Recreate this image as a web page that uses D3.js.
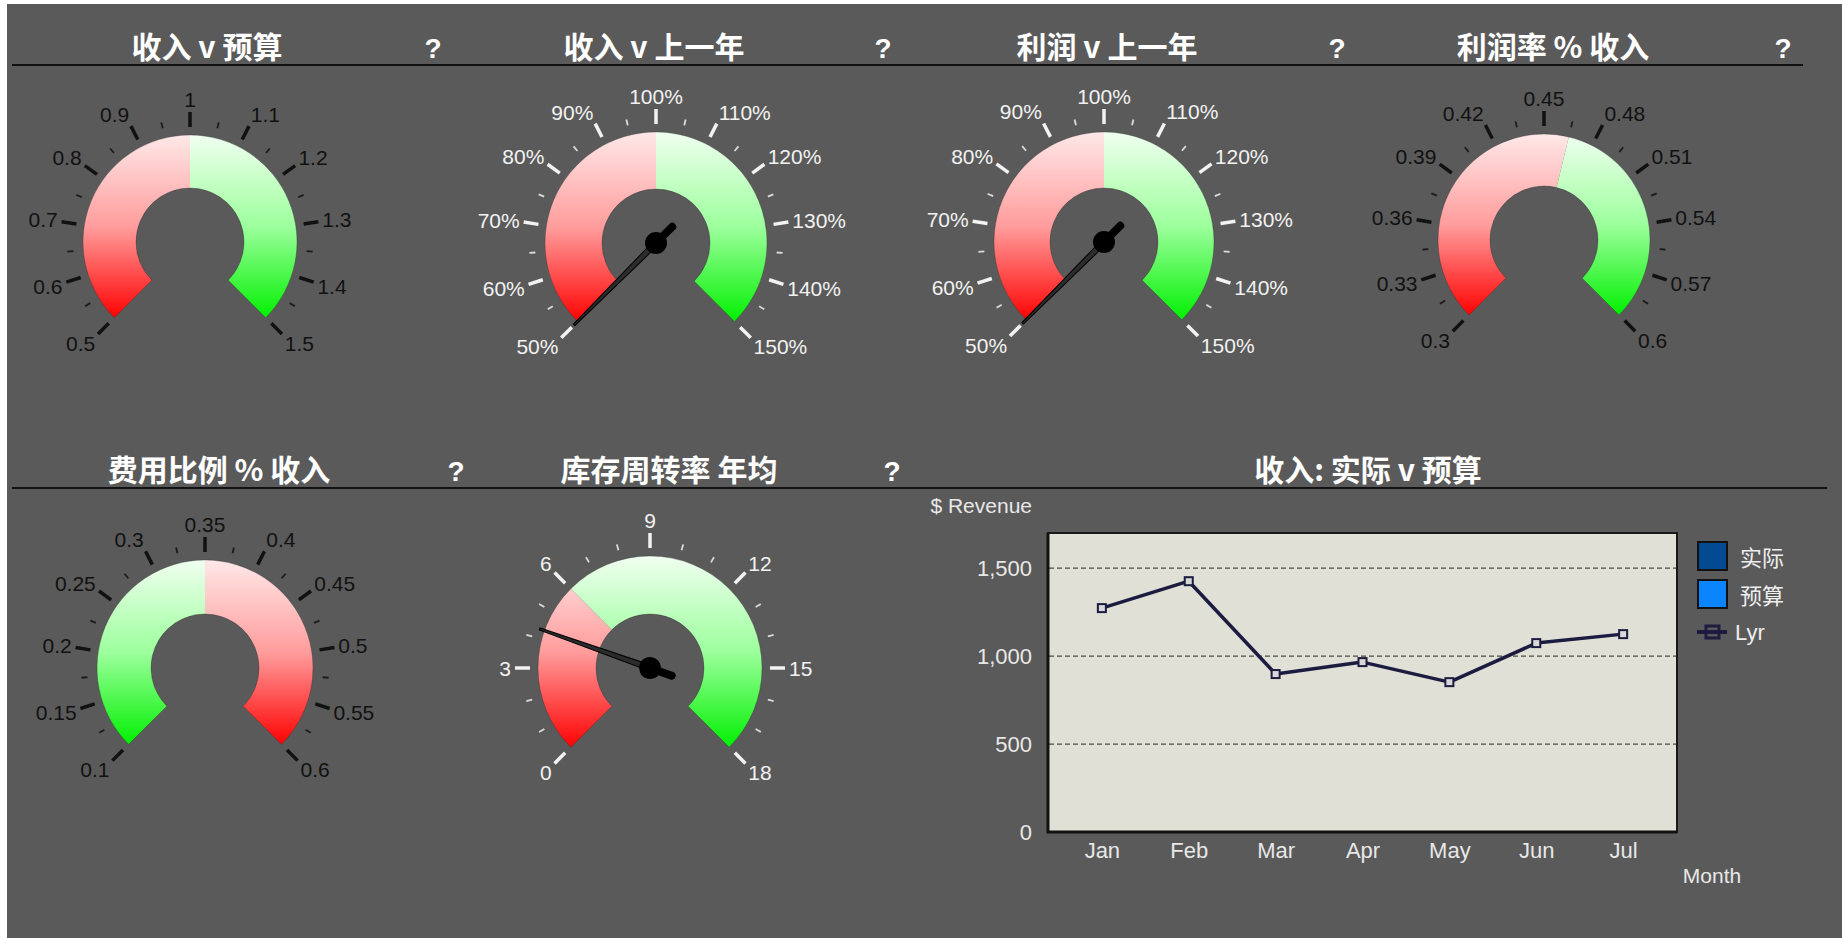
<!DOCTYPE html>
<html>
<head>
<meta charset="utf-8">
<script src="https://cdn.jsdelivr.net/npm/d3@7/dist/d3.min.js"></script>
<style>
  body { margin: 0; background: #ffffff; }
  svg { display: block; }
</style>
</head>
<body>
<div id="dash"></div>
<script>
// ---- DATA ----
const gaugeTitles = ["收入 v 预算", "收入 v 上一年", "利润 v 上一年", "利润率 % 收入", "费用比例 % 收入", "库存周转率 年均"]
const gaugeMin = [0.5, 0.5, 0.5, 0.3, 0.1, 0]
const gaugeMax = [1.5, 1.5, 1.5, 0.6, 0.6, 18]
const gaugeMajorCount = [10, 10, 10, 10, 10, 6]
const gaugeMinorPerMajor = [1, 1, 1, 1, 1, 2]
const gaugeThreshold = [1, 1, 1, 0.465, 0.35, 6]
const gaugeLowIsGood = [false, false, false, false, true, false]
const gaugeValues = [null, 0.5, 0.5, null, null, 4.3]
const gaugePercent = [false, true, true, false, false, false]
const gaugeLightText = [false, true, true, false, false, true]

const months = ["Jan", "Feb", "Mar", "Apr", "May", "Jun", "Jul"]
const lyrValues = [1273, 1426, 898, 966, 852, 1074, 1125]
const revenueTicks = [0, 500, 1000, 1500]
const legendLabels = ["实际", "预算", "Lyr"]

// ---- LAYOUT ----
const W = 1842, H = 938
const gaugeLayout = [
    {cx: 190, cy: 242, r: 107, qx: 433},
    {cx: 656, cy: 243, r: 111, qx: 883},
    {cx: 1104, cy: 242, r: 110, qx: 1337},
    {cx: 1544, cy: 240, r: 106, qx: 1783},
    {cx: 205, cy: 668, r: 108, qx: 456},
    {cx: 650, cy: 668, r: 112, qx: 892},
]
const titleX = [207, 654, 1107, 1553, 219, 669]
const innerR = 54

const numFont = "'Liberation Sans', Arial, sans-serif"
const cjkFont = "'Noto Sans CJK SC', 'Noto Sans', sans-serif"

const svg = d3.select("#dash").append("svg")
    .attr("width", W)
    .attr("height", H)

svg.append("rect")
    .attr("x", 7).attr("y", 4)
    .attr("width", W - 7).attr("height", H - 4)
    .attr("fill", "#5a5a5a")

const defs = svg.append("defs")

// header lines
svg.append("line").attr("x1", 12).attr("x2", 1803).attr("y1", 65).attr("y2", 65)
    .attr("stroke", "#111").attr("stroke-width", 2)
svg.append("line").attr("x1", 12).attr("x2", 1827).attr("y1", 488).attr("y2", 488)
    .attr("stroke", "#111").attr("stroke-width", 2)

// ---- GAUGES ----
function drawGauge(i) {
    const {cx, cy, r, qx} = gaugeLayout[i]
    const top = i < 4
    const titleY = top ? 58 : 481
    const ink = gaugeLightText[i] ? "#f2f2f2" : "#111"

    svg.append("text")
        .attr("x", titleX[i]).attr("y", titleY)
        .attr("text-anchor", "middle")
        .attr("font-family", cjkFont)
        .attr("font-weight", "bold")
        .attr("font-size", 30)
        .attr("fill", "#fff")
        .text(gaugeTitles[i])

    svg.append("text")
        .attr("x", qx).attr("y", titleY)
        .attr("text-anchor", "middle")
        .attr("font-family", numFont)
        .attr("font-weight", "bold")
        .attr("font-size", 28)
        .attr("fill", "#fff")
        .text("?")

    const angle = d3.scaleLinear()
        .domain([gaugeMin[i], gaugeMax[i]])
        .range([-135, 135])

    const g = svg.append("g").attr("transform", `translate(${cx},${cy})`)

    // gradients, top (light) to bottom (saturated), in the gauge's own coords
    const mk = (id, light, mid, full) => {
        const lg = defs.append("linearGradient")
            .attr("id", id)
            .attr("gradientUnits", "userSpaceOnUse")
            .attr("x1", 0).attr("x2", 0)
            .attr("y1", -r).attr("y2", r * 0.72)
        lg.append("stop").attr("offset", 0).attr("stop-color", light)
        lg.append("stop").attr("offset", 0.5).attr("stop-color", mid)
        lg.append("stop").attr("offset", 1).attr("stop-color", full)
    }
    mk("red" + i, "#ffe8e8", "#ff9c9c", "#ff0000")
    mk("green" + i, "#f0fff0", "#9cff9c", "#00f000")

    const arc = d3.arc().innerRadius(innerR).outerRadius(r)
    const rad = d => angle(d) * Math.PI / 180
    const lowColor = gaugeLowIsGood[i] ? "green" : "red"
    const highColor = gaugeLowIsGood[i] ? "red" : "green"

    const bands = [
        {a: gaugeMin[i], b: gaugeThreshold[i], c: lowColor},
        {a: gaugeThreshold[i], b: gaugeMax[i], c: highColor},
    ]
    g.selectAll(".band")
        .data(bands)
        .join("path")
        .attr("class", "band")
        .attr("d", d => arc({startAngle: rad(d.a), endAngle: rad(d.b)}))
        .attr("fill", d => `url(#${d.c}${i})`)

    // faint outline round the whole ring
    g.append("path")
        .attr("d", arc({startAngle: rad(gaugeMin[i]), endAngle: rad(gaugeMax[i])}))
        .attr("fill", "none")
        .attr("stroke", "rgba(40,40,40,0.3)")
        .attr("stroke-width", 1)

    // ticks
    const n = gaugeMajorCount[i] * (gaugeMinorPerMajor[i] + 1)
    const tickData = d3.range(n + 1).map(k => ({
        a: -135 + 270 * k / n,
        major: k % (gaugeMinorPerMajor[i] + 1) === 0,
    }))
    g.selectAll(".tick")
        .data(tickData)
        .join("line")
        .attr("class", "tick")
        .attr("x1", d => Math.sin(d.a * Math.PI / 180) * (r + (d.major ? 8 : 10)))
        .attr("y1", d => -Math.cos(d.a * Math.PI / 180) * (r + (d.major ? 8 : 10)))
        .attr("x2", d => Math.sin(d.a * Math.PI / 180) * (r + (d.major ? 23 : 16)))
        .attr("y2", d => -Math.cos(d.a * Math.PI / 180) * (r + (d.major ? 23 : 16)))
        .attr("stroke", ink)
        .attr("stroke-width", d => d.major ? 3.5 : 1.8)
        .attr("opacity", d => d.major ? 1 : 0.85)

    // labels
    const step = (gaugeMax[i] - gaugeMin[i]) / gaugeMajorCount[i]
    const labelVals = d3.range(gaugeMajorCount[i] + 1).map(k => gaugeMin[i] + k * step)
    const fmt = v => gaugePercent[i] ? Math.round(v * 100) + "%" : String(+v.toFixed(2))
    const lr = r + 27
    g.selectAll(".lbl")
        .data(labelVals)
        .join("text")
        .attr("class", "lbl")
        .attr("x", v => Math.sin(rad(v)) * lr)
        .attr("y", v => -Math.cos(rad(v)) * lr - Math.cos(rad(v)) * 9)
        .attr("text-anchor", v => {
            const s = Math.sin(rad(v))
            return s > 0.15 ? "start" : s < -0.15 ? "end" : "middle"
        })
        .attr("dominant-baseline", "central")
        .attr("font-family", numFont)
        .attr("font-size", 21)
        .attr("fill", ink)
        .text(fmt)

    // needle: drawn pointing up (-y), then rotated to the value
    if (gaugeValues[i] !== null) {
        const nd = g.append("g").attr("transform", `rotate(${angle(gaugeValues[i])})`)
        const tip = r + 5
        nd.append("path")
            .attr("d", `M-3,0 L-1,${-tip} L1,${-tip} L3,0 Z`)
            .attr("fill", "#2c2c2c")
            .attr("stroke", "#000")
            .attr("stroke-width", 1)
        // short tail behind the hub
        nd.append("line")
            .attr("x1", 0).attr("y1", 0)
            .attr("x2", 0).attr("y2", 23)
            .attr("stroke", "#000")
            .attr("stroke-width", 8)
            .attr("stroke-linecap", "round")
        nd.append("circle").attr("r", 11).attr("fill", "#000")
    }
}

gaugeLayout.forEach((d, i) => drawGauge(i))

// ---- LINE CHART ----
svg.append("text")
    .attr("x", 1368).attr("y", 481)
    .attr("text-anchor", "middle")
    .attr("font-family", cjkFont)
    .attr("font-weight", "bold")
    .attr("font-size", 30)
    .attr("fill", "#fff")
    .text("收入: 实际 v 预算")

const plot = {left: 1048, right: 1677, top: 533, bottom: 832}

const xScale = d3.scalePoint()
    .domain(months)
    .range([plot.left, plot.right])
    .padding(0.62)

const yScale = d3.scaleLinear()
    .domain([0, 1700])
    .range([plot.bottom, plot.top])

svg.append("rect")
    .attr("x", plot.left).attr("y", plot.top)
    .attr("width", plot.right - plot.left)
    .attr("height", plot.bottom - plot.top)
    .attr("fill", "#e0e0d6")
    .attr("stroke", "#1a1a1a")
    .attr("stroke-width", 2)

svg.append("g")
    .selectAll("line")
    .data(revenueTicks.filter(d => d > 0))
    .join("line")
    .attr("x1", plot.left + 1).attr("x2", plot.right - 1)
    .attr("y1", d => yScale(d)).attr("y2", d => yScale(d))
    .attr("stroke", "#4a4a40")
    .attr("stroke-width", 1.3)
    .attr("stroke-dasharray", "5,3")

// thicker left and bottom edge
svg.append("path")
    .attr("d", `M${plot.left},${plot.top} V${plot.bottom} H${plot.right}`)
    .attr("fill", "none")
    .attr("stroke", "#111")
    .attr("stroke-width", 3)

const yAxis = svg.append("g")
    .attr("transform", `translate(${plot.left},0)`)
    .call(d3.axisLeft(yScale).tickValues(revenueTicks).tickSize(0).tickPadding(16).tickFormat(d3.format(",")))
yAxis.select(".domain").remove()
yAxis.selectAll("text")
    .attr("font-family", numFont)
    .attr("font-size", 22)
    .attr("fill", "#e8e8e8")

const xAxis = svg.append("g")
    .attr("transform", `translate(0,${plot.bottom})`)
    .call(d3.axisBottom(xScale).tickSize(0).tickPadding(10))
xAxis.select(".domain").remove()
xAxis.selectAll("text")
    .attr("font-family", numFont)
    .attr("font-size", 22)
    .attr("fill", "#e8e8e8")

svg.append("text")
    .attr("x", 1032).attr("y", 505)
    .attr("text-anchor", "end")
    .attr("dominant-baseline", "central")
    .attr("font-family", numFont)
    .attr("font-size", 21)
    .attr("fill", "#e8e8e8")
    .text("$ Revenue")

svg.append("text")
    .attr("x", 1712).attr("y", 875)
    .attr("text-anchor", "middle")
    .attr("dominant-baseline", "central")
    .attr("font-family", numFont)
    .attr("font-size", 21)
    .attr("fill", "#e8e8e8")
    .text("Month")

const lineGen = d3.line()
    .x((d, k) => xScale(months[k]))
    .y(d => yScale(d))

svg.append("path")
    .datum(lyrValues)
    .attr("d", lineGen)
    .attr("fill", "none")
    .attr("stroke", "#1c1c40")
    .attr("stroke-width", 3.5)
    .attr("stroke-linejoin", "round")

svg.append("g")
    .selectAll("rect")
    .data(lyrValues)
    .join("rect")
    .attr("x", (d, k) => xScale(months[k]) - 4)
    .attr("y", d => yScale(d) - 4)
    .attr("width", 8).attr("height", 8)
    .attr("fill", "#d8d8d8")
    .attr("stroke", "#1c1c40")
    .attr("stroke-width", 2)

// ---- LEGEND ----
const legendColors = ["#034a92", "#0a84ff"]
const legend = svg.append("g")
legend.selectAll("rect")
    .data(legendColors)
    .join("rect")
    .attr("x", 1698)
    .attr("y", (d, k) => 542 + k * 38)
    .attr("width", 29).attr("height", 28)
    .attr("fill", d => d)
    .attr("stroke", "#111")
    .attr("stroke-width", 2)

legend.append("line")
    .attr("x1", 1697).attr("x2", 1727)
    .attr("y1", 632).attr("y2", 632)
    .attr("stroke", "#1c1c40").attr("stroke-width", 4)
legend.append("rect")
    .attr("x", 1706).attr("y", 626)
    .attr("width", 13).attr("height", 12)
    .attr("fill", "none")
    .attr("stroke", "#1c1c40").attr("stroke-width", 3)

legend.selectAll("text")
    .data(legendLabels)
    .join("text")
    .attr("x", (d, k) => k < 2 ? 1740 : 1735)
    .attr("y", (d, k) => [556, 594, 632][k])
    .attr("dominant-baseline", "central")
    .attr("font-family", (d, k) => k < 2 ? cjkFont : numFont)
    .attr("font-size", 22)
    .attr("fill", "#eeeeee")
    .text(d => d)
</script>
</body>
</html>
